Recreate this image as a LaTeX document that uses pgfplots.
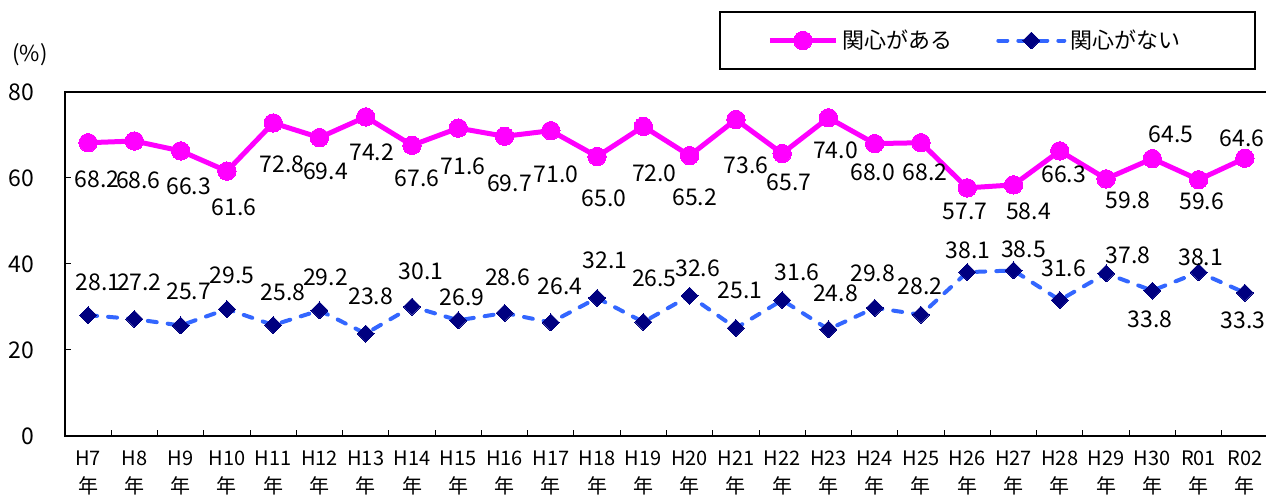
\documentclass[border=0pt]{standalone}
\usepackage{pgfplots}
\usepackage{pgfplotstable}
\pgfplotsset{compat=1.18}
\usepackage{fontspec}
\setmainfont{Noto Sans CJK JP}
\definecolor{pinkc}{RGB}{255,0,255}
\definecolor{bluec}{RGB}{51,102,255}
\definecolor{navyc}{RGB}{0,0,128}

% dx, dy: offset of the data label from its point, in pixels of the reference
\pgfplotstableread{
x y dx dy
1 68.2 9 -37
2 68.6 4 -39
3 66.3 8 -35
4 61.6 7 -36
5 72.8 9 -41
6 69.4 6 -34
7 74.2 6 -35
8 67.6 5 -33
9 71.6 5 -38
10 69.7 5 -47
11 71.0 5 -44
12 65.0 7 -42
13 72.0 11 -47
14 65.2 5 -42
15 73.6 10 -46
16 65.7 7 -29
17 74.0 7 -33
18 68.0 -2 -29
19 68.2 4 -30
20 57.7 -2 -24
21 58.4 15 -26
22 66.3 4 -23
23 59.8 22 -21
24 64.5 19 24
25 59.6 3 -22
26 64.6 -3 20
}\pinktable

\pgfplotstableread{
x y dx dy
1 28.1 10 33
2 27.2 5 37
3 25.7 8 34
4 29.5 5 34
5 25.8 10 33
6 29.2 6 33
7 23.8 5 37
8 30.1 9 35
9 26.9 4 23
10 28.6 3 36
11 26.4 9 36
12 32.1 8 38
13 26.5 11 44
14 32.6 8 28
15 25.1 4 38
16 31.6 15 28
17 24.8 7 36
18 29.8 -2 35
19 28.2 -1 28
20 38.1 1 22
21 38.5 10 21
22 31.6 4 32
23 37.8 22 18
24 33.8 -2 -29
25 38.1 2 15
26 33.3 -2 -27
}\bluetable

\pgfplotsset{
  labelplot/.style={forget plot, draw=none, mark=none,
    point meta={\thisrow{y}},
    nodes near coords={\pgfmathprintnumber[fixed,fixed zerofill,precision=1,assume math mode=true]{\pgfplotspointmeta}},
    every node near coord/.append style={text=black, anchor=center,
      font=\fontsize{11.5}{13}\selectfont}},
}

\begin{document}
\begin{tikzpicture}
\useasboundingbox (-32.5pt,-33pt) rectangle (600.5pt,218pt);
\begin{axis}[
  at={(0pt,0pt)}, anchor=south west,
  scale only axis,
  width=601.5pt, height=172pt,
  xmin=0.5, xmax=26.5,
  ymin=0, ymax=80,
  ytick={0,20,40,60,80},
  xtick={1,...,26},
  xticklabels={H7\\年,H8\\年,H9\\年,H10\\年,H11\\年,H12\\年,H13\\年,H14\\年,H15\\年,H16\\年,H17\\年,H18\\年,H19\\年,H20\\年,H21\\年,H22\\年,H23\\年,H24\\年,H25\\年,H26\\年,H27\\年,H28\\年,H29\\年,H30\\年,R01\\年,R02\\年},
  minor xtick={1.5,2.5,...,25.5},
  major x tick style={draw=none},
  tick pos=left,
  tick align=inside,
  major tick length=3pt,
  minor tick length=3pt,
  axis line style={line width=0.6pt},
  tick style={line width=0.5pt, black},
  /pgf/number format/assume math mode=true,
  xticklabel style={font=\fontsize{10}{14}\selectfont, align=center, yshift=-4pt},
  yticklabel style={font=\fontsize{11.5}{13}\selectfont, xshift=-12pt},
  clip=false,
  legend columns=2,
  legend cell align=left,
  legend style={at={(0.5835,1.1497)}, anchor=west, draw=none, fill=none,
    inner xsep=0pt, inner ysep=0pt,
    font=\fontsize{11}{13}\selectfont,
    /tikz/every even column/.append style={column sep=20pt}},
  legend image code/.code={\draw[mark repeat=2,mark phase=2] plot coordinates {(0pt,0pt) (16.5pt,0pt) (33pt,0pt)};},
]
\addplot[color=pinkc, line width=2.5pt, mark=*, mark size=4.6pt, mark options={solid, fill=pinkc, draw=pinkc, line width=0pt}]
  table[x=x, y=y] {\pinktable};
\addlegendentry{関心がある}
\addplot[color=bluec, line width=2pt, line cap=round, dash pattern=on 4.5pt off 5.5pt,
  mark=square*, mark size=3pt, mark options={solid, rotate=45, fill=navyc, draw=navyc, line width=0pt}]
  table[x=x, y=y] {\bluetable};
\addlegendentry{関心がない}
\addplot[labelplot] table[x expr={\thisrow{x}+\thisrow{dx}/46.27}, y expr={\thisrow{y}+\thisrow{dy}/4.3}] {\pinktable};
\addplot[labelplot] table[x expr={\thisrow{x}+\thisrow{dx}/46.27}, y expr={\thisrow{y}+\thisrow{dy}/4.3}] {\bluetable};
\end{axis}
\draw[line width=0.6pt] (327.5pt,183.5pt) rectangle (595pt,212pt);
\node[font=\fontsize{11}{13}\selectfont] at (-17.5pt,190.5pt) {(\%)};
\end{tikzpicture}
\end{document}
